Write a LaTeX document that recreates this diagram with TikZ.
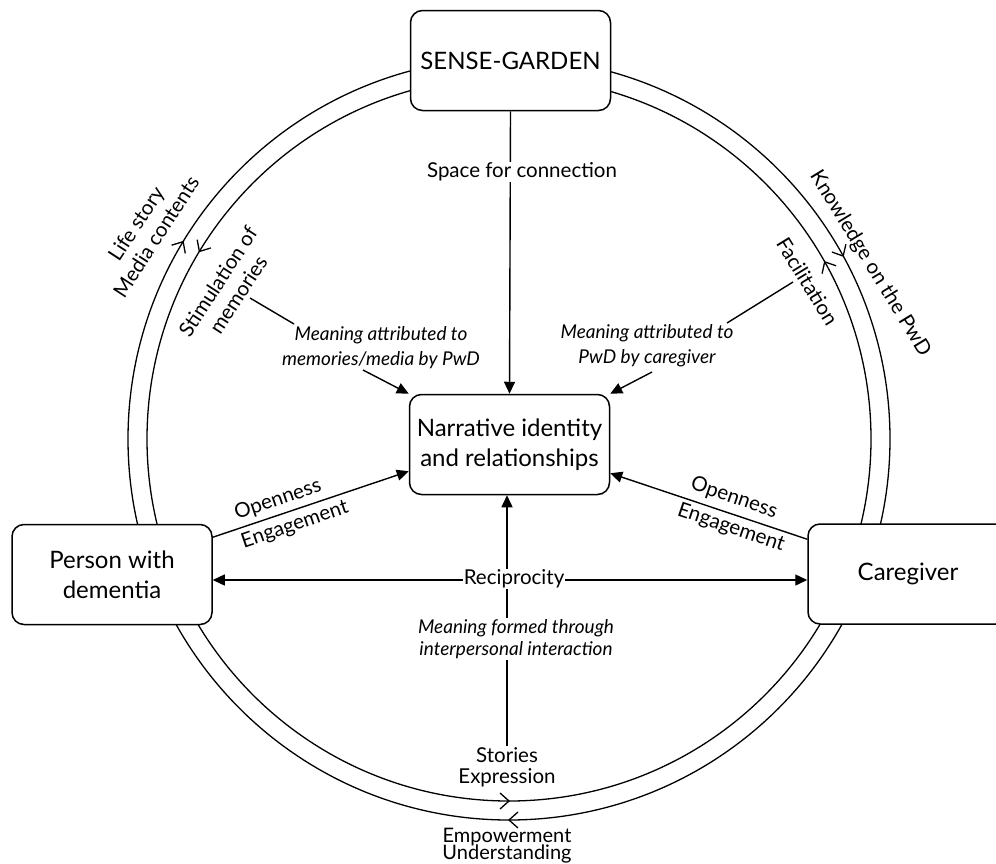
\documentclass[tikz,border=0pt]{standalone}
\usepackage{fontspec}
\setmainfont{Lato}
\usetikzlibrary{arrows.meta,calc}
\newcommand\mytightskip{\lineskiplimit=-30pt\relax}
\begin{document}
\begin{tikzpicture}[x=1pt,y=-1pt,
  box/.style={draw, line width=1.5pt, rounded corners=12pt, fill=white,
    minimum width=200pt, minimum height=100pt, align=center,
    font=\fontsize{24}{30}\selectfont},
  lbl/.style={font=\fontsize{20.5}{24}\selectfont, align=center, inner sep=1pt},
  ilbl/.style={font=\fontsize{19}{25}\selectfont\itshape, align=center, inner sep=1pt},
  wl/.style={fill=white},
  ring/.style={line width=1.3pt},
  conn/.style={line width=1.4pt},
  arr/.style={line width=1.4pt, -{Triangle[length=12pt,width=11pt]}},
  darr/.style={line width=1.4pt, {Triangle[length=12pt,width=11pt]}-{Triangle[length=12pt,width=11pt]}},
  chevron/.pic={\draw[line width=1.3pt] (-9,-8) -- (0,0) -- (-9,8);}
]
\useasboundingbox (0,0) rectangle (996,863);
\clip (0,0) rectangle (996,863);

\coordinate (C) at (509,439);
\draw[ring] (C) circle[radius=381];
\draw[ring] (C) circle[radius=362];

% chevrons on the rings
\pic[rotate=58.8] at ($(C)+(-148.8:381)$) {chevron};
\pic[rotate=238.8] at ($(C)+(-148.8:362)$) {chevron};
\pic[rotate=-61.3] at ($(C)+(-28.7:381)$) {chevron};
\pic[rotate=119.3] at ($(C)+(-29.3:362)$) {chevron};
\pic[rotate=180] at ($(C)+(90:381)$) {chevron};
\pic[rotate=0] at ($(C)+(90:362)$) {chevron};

% boxes
\node[box] (sg) at (510.5,60.5) {SENSE-GARDEN};
\node[box] (nr) at (509.5,444.5) {Narrative identity\\and relationships};
\node[box] (pw) at (112,574.5) {Person with\\dementia};
\node[box] (cg) at (908,574) {Caregiver};

% ring labels
\node[lbl, rotate=57] (ls) at (146,230) {Life story\\Media contents};
\node[lbl, rotate=57] (sm) at (228,288) {Stimulation of\\memories};
\node[lbl, rotate=-58.6] (kp) at (870,263.5) {Knowledge on the PwD};
\node[lbl, rotate=-58.5] (fc) at (807.5,281.5) {Facilitation};
\node[lbl, font=\fontsize{20.5}{21}\selectfont] (st) at (507,767) {Stories\\Expression};
\node[lbl, font={\fontsize{20}{17}\selectfont\mytightskip}] (em) at (507,846) {Empowerment\\Understanding};

% meaning labels
\node[ilbl] (ml) at (381,347.5) {Meaning attributed to\\memories/media by PwD};
\node[ilbl] (mr) at (647,345.5) {Meaning attributed to\\PwD by caregiver};

\coordinate (smE) at (250,298);
\coordinate (mlW) at (294,324);
\coordinate (mlS) at (363,370);
\coordinate (fcE) at (793,282);
\coordinate (mrE) at (727,323);
\coordinate (mrS) at (652,372);

\draw[conn] (smE) -- (mlW);
\draw[arr] (mlS) -- (nr.north west);
\draw[conn] (fcE) -- (mrE);
\draw[arr] (mrS) -- (nr.north east);

% main connectors
\draw[arr] (sg.south) -- (nr.north);
\draw[arr] (st.north) -- (st.north |- nr.south);
\coordinate (rcy) at (514,580);
\draw[darr] (pw.east |- rcy) -- (cg.west |- rcy);
\draw[arr] ($(pw.north east)+(0,13.5)$) -- ($(nr.south west)+(0,-24)$);
\draw[arr] ($(cg.north west)+(0,16)$) -- ($(nr.south east)+(0,-22)$);

% labels over lines
\node[lbl, wl] (sc) at (522,172) {Space for connection};
\node[lbl, wl] (rc) at (514,579) {Reciprocity};
\node[ilbl, wl, font=\fontsize{19}{22}\selectfont\itshape] (mf) at (516,639) {Meaning formed through\\interpersonal interaction};

% openness / engagement
\node[lbl, rotate=18.8] (ol) at (278,500) {Openness};
\node[lbl, rotate=18.8] (el) at (295,525) {Engagement};
\node[lbl, rotate=-18.8] (or) at (734,498) {Openness};
\node[lbl, rotate=-18.8] (er) at (731,528) {Engagement};
\end{tikzpicture}
\end{document}
